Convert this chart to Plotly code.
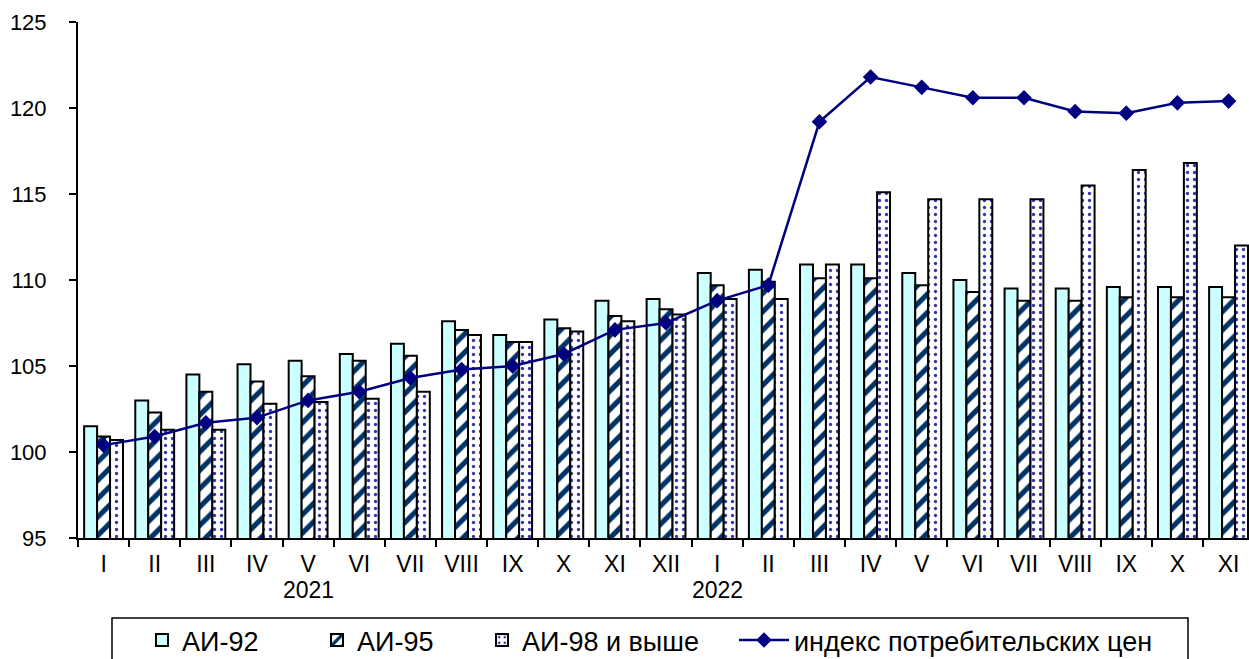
import plotly.graph_objects as go

months = ["I", "II", "III", "IV", "V", "VI", "VII", "VIII", "IX", "X", "XI", "XII",
          "I", "II", "III", "IV", "V", "VI", "VII", "VIII", "IX", "X", "XI"]
years = ["2021", "2022"]
year_pos = [4, 12]

ai92 = [101.5, 103.0, 104.5, 105.1, 105.3, 105.7, 106.3, 107.6, 106.8, 107.7, 108.8, 108.9,
        110.4, 110.6, 110.9, 110.9, 110.4, 110.0, 109.5, 109.5, 109.6, 109.6, 109.6]
ai95 = [100.9, 102.3, 103.5, 104.1, 104.4, 105.3, 105.6, 107.1, 106.4, 107.2, 107.9, 108.3,
        109.7, 109.9, 110.1, 110.1, 109.7, 109.3, 108.8, 108.8, 109.0, 109.0, 109.0]
ai98 = [100.7, 101.3, 101.3, 102.8, 102.9, 103.1, 103.5, 106.8, 106.4, 107.0, 107.6, 108.0,
        108.9, 108.9, 110.9, 115.1, 114.7, 114.7, 114.7, 115.5, 116.4, 116.8, 112.0]
cpi = [100.4, 100.9, 101.7, 102.0, 103.0, 103.5, 104.3, 104.8, 105.0, 105.7, 107.1, 107.5,
       108.8, 109.7, 119.2, 121.8, 121.2, 120.6, 120.6, 119.8, 119.7, 120.3, 120.4]

x = list(range(len(months)))
outline = dict(color="black", width=2)
FONT = "Liberation Sans, Arial, sans-serif"
W, H = 1249, 659
L, T, B = 78, 22, 121
PW, PH = W - L, H - T - B

fig = go.Figure()
fig.add_trace(go.Bar(x=x, y=ai92, name="АИ-92", legend="legend",
                     marker=dict(color="#CCFFFF", line=outline)))
fig.add_trace(go.Bar(x=x, y=ai95, name="АИ-95", legend="legend",
                     marker=dict(color="white", line=outline,
                                 pattern=dict(shape="/", fgcolor="#003366", bgcolor="white",
                                              fgopacity=1, size=13, solidity=0.4))))
fig.add_trace(go.Bar(x=x, y=ai98, name="АИ-98 и выше", legend="legend3",
                     marker=dict(color="white", line=outline,
                                 pattern=dict(shape=".", fgcolor="#3333AA", bgcolor="white",
                                              fgopacity=1, size=7, solidity=0.17))))
fig.add_trace(go.Scatter(x=x, y=cpi, name="индекс потребительских цен", mode="lines+markers",
                         legend="legend2",
                         line=dict(color="#000080", width=2.5),
                         marker=dict(symbol="diamond", size=12, color="#000080")))

for yr, p in zip(years, year_pos):
    fig.add_annotation(x=p, y=(T + PH - 590) / PH, xref="x", yref="paper", text=yr,
                       showarrow=False, yanchor="middle",
                       font=dict(size=23, color="black", family=FONT))

# legend frame
fig.add_shape(type="rect", xref="paper", yref="paper",
              x0=(112 - L) / PW, x1=(1188 - L) / PW,
              y0=(T + PH - 618) / PH, y1=-0.30,
              line=dict(color="black", width=1.5), fillcolor="rgba(0,0,0,0)")

leg_common = dict(orientation="h", xref="container", yref="container", yanchor="top",
                  xanchor="left", bgcolor="rgba(0,0,0,0)", borderwidth=0,
                  font=dict(size=27, family=FONT), tracegroupgap=0)
leg_y = 1 - 616 / H

fig.update_layout(
    width=W, height=H,
    margin=dict(l=L, r=0, t=T, b=B, autoexpand=False),
    paper_bgcolor="white", plot_bgcolor="white",
    barmode="group", bargap=0.24, bargroupgap=0,
    font=dict(family=FONT, color="black"),
    showlegend=True,
    legend=dict(**leg_common, x=142 / W, y=leg_y,
                entrywidth=130, entrywidthmode="pixels", itemwidth=30),
    legend3=dict(**leg_common, x=482 / W, y=leg_y, itemwidth=30),
    legend2=dict(**leg_common, x=734 / W, y=leg_y, itemwidth=50),
    xaxis=dict(range=[-0.5, 22.4], tickvals=x, ticktext=months, ticks="",
               tickfont=dict(size=23), showline=True, linecolor="black", linewidth=2,
               showgrid=False, zeroline=False, automargin=False, ticklabelstandoff=4,
               minor=dict(tickvals=[i - 0.5 for i in range(24)], ticks="outside",
                          ticklen=7, tickwidth=2, tickcolor="black")),
    yaxis=dict(range=[95, 125], dtick=5, ticks="outside", ticklen=7, tickwidth=2,
               tickcolor="black", tickfont=dict(size=22), showline=True, linecolor="black",
               linewidth=2, showgrid=False, zeroline=False, automargin=False,
               ticklabelstandoff=18),
)

fig.write_html("out.html", config={"displayModeBar": False},
               post_script="document.body.style.margin='0';document.body.style.overflow='hidden';")
